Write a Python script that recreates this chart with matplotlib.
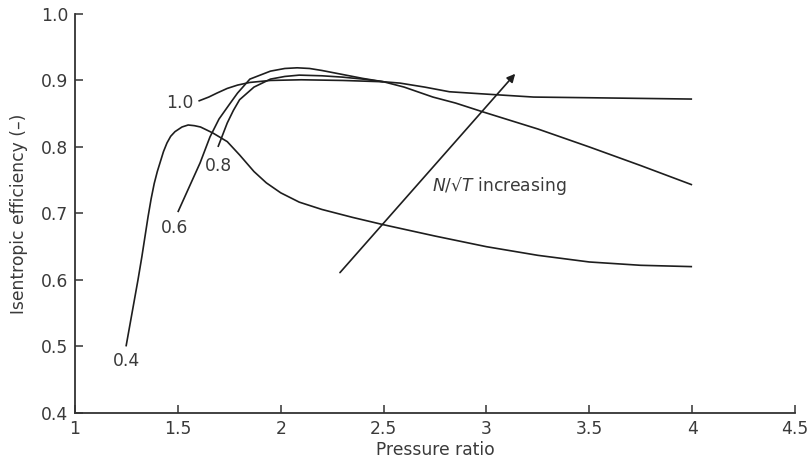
import matplotlib
matplotlib.use("Agg")
import matplotlib.pyplot as plt

plt.rcParams['font.family'] = ['DejaVu Sans']
plt.rcParams['mathtext.fontset'] = 'dejavusans'

# Speed line N/sqrt(T) = 0.4
x04 = [1.248, 1.277, 1.306, 1.325, 1.34, 1.355, 1.37, 1.385, 1.40, 1.413, 1.43,
       1.447, 1.465, 1.486, 1.52, 1.55, 1.58, 1.61, 1.67, 1.74, 1.80, 1.87, 1.93,
       2.0, 2.09, 2.2, 2.35, 2.5, 2.75, 3.0, 3.25, 3.5, 3.75, 4.0]
y04 = [0.50, 0.55, 0.60, 0.635, 0.665, 0.695, 0.722, 0.745, 0.763, 0.776, 0.793,
       0.806, 0.816, 0.823, 0.830, 0.833, 0.832, 0.830, 0.821, 0.808, 0.788, 0.763,
       0.746, 0.731, 0.717, 0.706, 0.694, 0.683, 0.666, 0.650, 0.637, 0.627, 0.622,
       0.620]
# 0.6
x06 = [1.50, 1.535, 1.57, 1.608, 1.656, 1.70, 1.755, 1.79, 1.85, 1.95, 2.02, 2.08,
       2.14, 2.2, 2.3, 2.4, 2.5, 2.6, 2.74, 2.85, 2.98, 3.25, 3.5, 3.75, 4.0]
y06 = [0.702, 0.726, 0.75, 0.776, 0.815, 0.842, 0.866, 0.881, 0.902, 0.914, 0.918,
       0.919, 0.918, 0.915, 0.909, 0.903, 0.898, 0.89, 0.875, 0.866, 0.853, 0.827,
       0.800, 0.772, 0.743]
# 0.8
x08 = [1.695, 1.72, 1.74, 1.77, 1.80, 1.87, 1.95, 2.02, 2.09, 2.2, 2.3, 2.4, 2.5]
y08 = [0.800, 0.82, 0.836, 0.855, 0.871, 0.890, 0.902, 0.906, 0.908, 0.907,
       0.905, 0.902, 0.898]
# 1.0
x10 = [1.60, 1.65, 1.69, 1.74, 1.79, 1.85, 1.95, 2.1, 2.3, 2.5, 2.58, 2.7, 2.82,
       2.97, 3.23, 3.5, 4.0]
y10 = [0.869, 0.875, 0.881, 0.888, 0.893, 0.897, 0.900, 0.901, 0.900, 0.898,
       0.896, 0.890, 0.883, 0.880, 0.875, 0.874, 0.872]

curve_labels = ["0.4", "0.6", "0.8", "1.0"]
label_pos = [(1.248, 0.478), (1.486, 0.678), (1.695, 0.771), (1.51, 0.866)]

arrow_start = (2.288, 0.611)
arrow_end = (3.14, 0.91)

xticks = [1, 1.5, 2, 2.5, 3, 3.5, 4, 4.5]
xticklabels = ["1", "1.5", "2", "2.5", "3", "3.5", "4", "4.5"]
yticks = [0.4, 0.5, 0.6, 0.7, 0.8, 0.9, 1.0]
yticklabels = ["0.4", "0.5", "0.6", "0.7", "0.8", "0.9", "1.0"]

fs = 12.3
fig = plt.figure(figsize=(8.12, 4.65), dpi=100)
ax = fig.add_axes([0.0924, 0.112, 0.8866, 0.858])

lc = '#1e1e1e'
tc = '#3a3a3a'
for xs, ys in [(x04, y04), (x06, y06), (x08, y08), (x10, y10)]:
    ax.plot(xs, ys, color=lc, lw=1.2, solid_capstyle='butt', solid_joinstyle='round')

for lab, (lx, ly) in zip(curve_labels, label_pos):
    ax.text(lx, ly, lab, ha='center', va='center', fontsize=fs, color=tc)

ax.annotate('', xy=arrow_end, xytext=arrow_start,
            arrowprops=dict(arrowstyle='-|>', color=lc, lw=1.2,
                            mutation_scale=12, shrinkA=0, shrinkB=0))
ax.text(2.735, 0.741, r"$N$/√$T$ increasing", ha='left', va='center',
        fontsize=fs, color=tc)

ax.set_xlim(1, 4.5)
ax.set_ylim(0.4, 1.0)
ax.set_xticks(xticks)
ax.set_xticklabels(xticklabels)
ax.set_yticks(yticks)
ax.set_yticklabels(yticklabels)
ax.spines['top'].set_visible(False)
ax.spines['right'].set_visible(False)
for s in ['left', 'bottom']:
    ax.spines[s].set_color('#333333')
    ax.spines[s].set_linewidth(1.3)
ax.tick_params(axis='x', direction='in', length=6, width=1.1, colors='#333333',
               labelcolor=tc, labelsize=fs, pad=5)
ax.tick_params(axis='y', direction='in', length=6, width=1.1, colors='#333333',
               labelcolor=tc, labelsize=fs, pad=5)
ax.set_xlabel("Pressure ratio", fontsize=fs, color=tc, labelpad=2)
ax.set_ylabel("Isentropic efficiency (–)", fontsize=fs, color=tc, labelpad=9)

fig.savefig("out.png", dpi=100)
